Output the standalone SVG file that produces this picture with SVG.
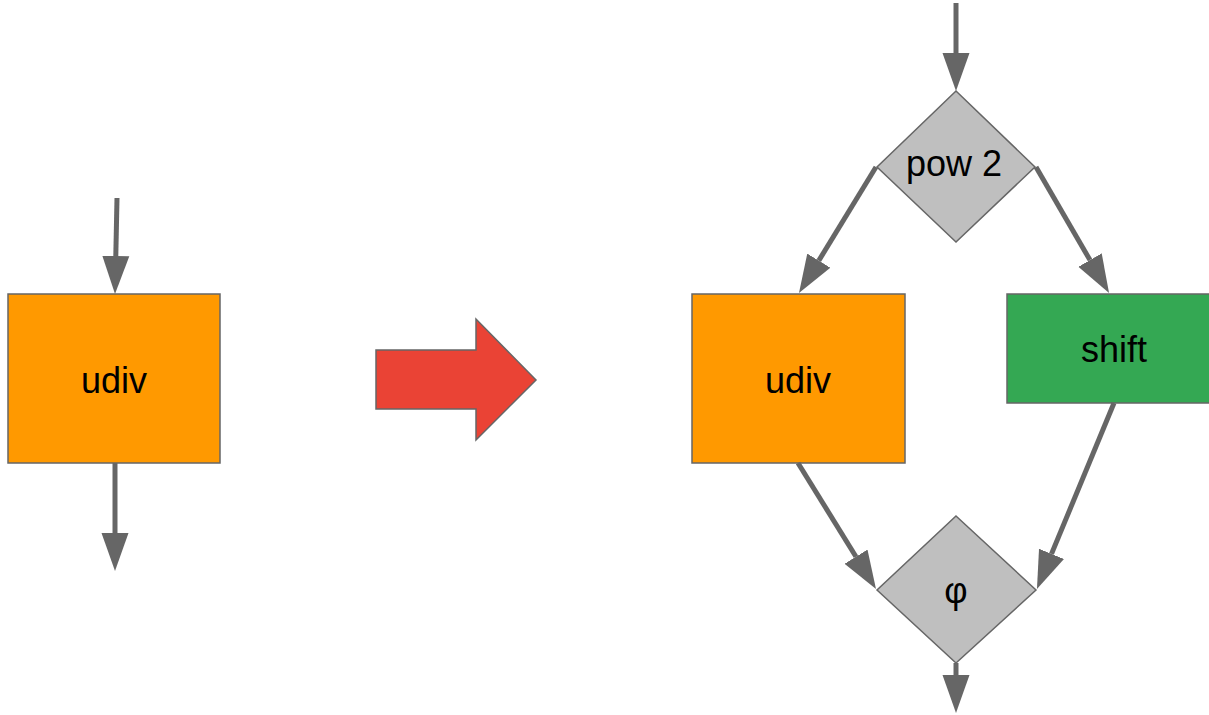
<svg xmlns="http://www.w3.org/2000/svg" width="1209" height="715" viewBox="0 0 1209 715">
  <style>
    .edge { stroke: #666666; stroke-width: 5; fill: none; marker-end: url(#head); }
    .box { stroke: #666666; stroke-width: 1.5; }
    .udiv { fill: #ff9900; }
    .shift { fill: #34a853; }
    .dia { fill: #bfbfbf; stroke: #666666; stroke-width: 1.5; }
    .label { font-family: "Liberation Sans", Arial, sans-serif; font-size: 36px; fill: #000000; text-anchor: middle; }
  </style>
  <defs>
    <marker id="head" markerUnits="userSpaceOnUse" viewBox="0 -14 38 28" markerWidth="38" markerHeight="28" refX="0" refY="0" orient="auto">
      <path d="M0,-13.5 L38,0 L0,13.5 Z" fill="#666666"/>
    </marker>
  </defs>
  <rect width="1209" height="715" fill="#ffffff"/>

  <!-- before: single udiv -->
  <g id="udiv-before">
    <rect class="box udiv" x="8" y="294" width="212" height="169"/>
    <text class="label" x="114" y="393">udiv</text>
  </g>

  <!-- transformation arrow -->
  <g id="transform-arrow">
    <path d="M376,350 L476,350 L476,319 L536,380 L476,440 L476,409 L376,409 Z" fill="#ea4335" stroke="#666666" stroke-width="1.5"/>
  </g>

  <!-- after: power-of-two check -->
  <g id="pow2">
    <path class="dia" d="M956,91 L1035,167 L956,242 L877,167 Z"/>
    <text class="label" x="954" y="176">pow 2</text>
  </g>
  <g id="udiv-after">
    <rect class="box udiv" x="692" y="294" width="213" height="169"/>
    <text class="label" x="798" y="393">udiv</text>
  </g>
  <g id="shift">
    <rect class="box shift" x="1007" y="294" width="210" height="109"/>
    <text class="label" x="1114" y="362">shift</text>
  </g>
  <g id="phi">
    <path class="dia" d="M956,516 L1036,590 L956,663 L877,590 Z"/>
    <text class="label" x="956" y="603">φ</text>
  </g>

  <!-- connectors -->
  <g id="connectors">
    <line class="edge" x1="117" y1="198" x2="115.8" y2="256"/>
    <line class="edge" x1="115" y1="463" x2="115" y2="533"/>
    <line class="edge" x1="956" y1="3" x2="956" y2="53"/>
    <line class="edge" x1="876" y1="167" x2="818.8" y2="260.6"/>
    <line class="edge" x1="1036" y1="167" x2="1090" y2="260.1"/>
    <line class="edge" x1="798" y1="463" x2="856" y2="556.7"/>
    <line class="edge" x1="1114" y1="403" x2="1051.5" y2="553.9"/>
    <line class="edge" x1="956" y1="663" x2="956" y2="675"/>
  </g>
</svg>
